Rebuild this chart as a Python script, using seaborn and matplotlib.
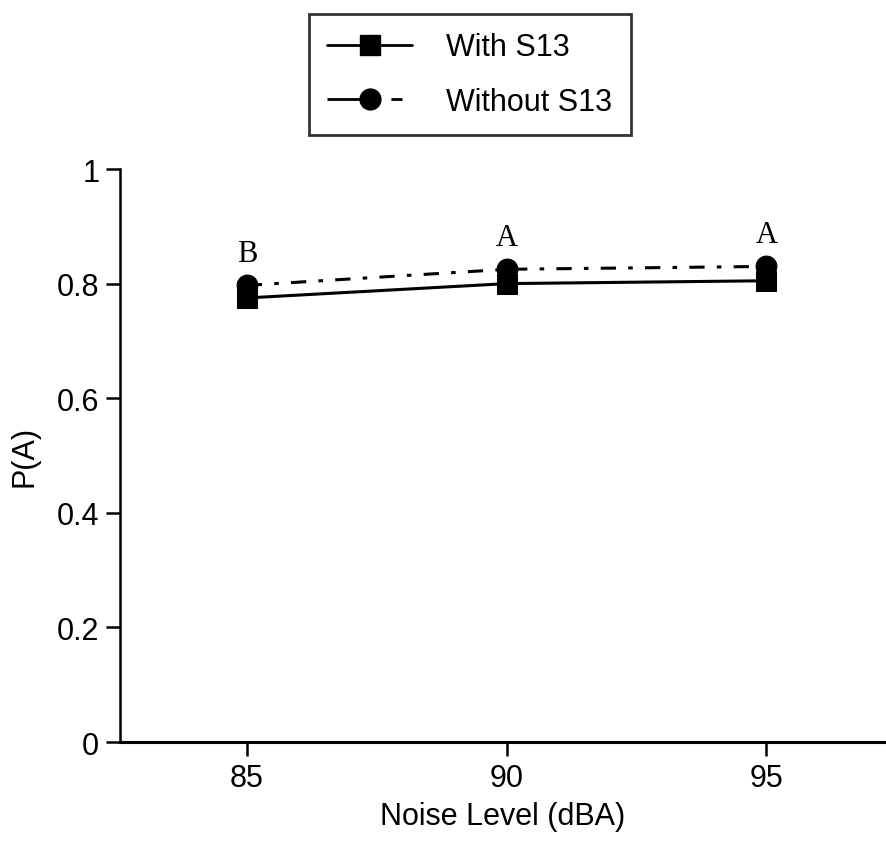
import matplotlib
matplotlib.use("Agg")
import matplotlib.pyplot as plt
from matplotlib.lines import Line2D
import pandas as pd
import seaborn as sns

noise = [85, 90, 95]
with_s13 = [0.775, 0.800, 0.805]
without_s13 = [0.797, 0.825, 0.830]
letters = ["B", "A", "A"]
y_ticks = [0, 0.2, 0.4, 0.6, 0.8, 1]
y_ticklabels = ["0", "0.2", "0.4", "0.6", "0.8", "1"]

df = pd.DataFrame({
    "noise": noise * 2,
    "pa": with_s13 + without_s13,
    "group": ["With S13"] * 3 + ["Without S13"] * 3,
})

sns.set_style("ticks")
plt.rcParams["font.family"] = ["Liberation Sans", "DejaVu Sans"]
plt.rcParams["text.color"] = "black"
plt.rcParams["axes.labelcolor"] = "black"
plt.rcParams["xtick.color"] = "black"
plt.rcParams["ytick.color"] = "black"
plt.rcParams["axes.edgecolor"] = "black"

fig = plt.figure(figsize=(8.86, 8.45), dpi=100)
ax = fig.add_axes([0.1354, 0.1207, 0.8646, 0.6781])

sns.lineplot(data=df, x="noise", y="pa", hue="group", style="group",
             palette={"With S13": "black", "Without S13": "black"},
             markers={"With S13": "s", "Without S13": "o"},
             dashes={"With S13": "", "Without S13": (5, 4, 1.5, 4)},
             markersize=15, markeredgecolor="black", linewidth=2.2,
             ax=ax, legend=False)

for x, y, t in zip(noise, without_s13, letters):
    ax.text(x, y + 0.03, t, ha="center", va="bottom", fontsize=22,
            family="Liberation Serif")

ax.set_xlim(82.56, 97.3)
ax.set_ylim(0, 1)
ax.set_xticks(noise)
ax.set_yticks(y_ticks)
ax.set_yticklabels(y_ticklabels)
ax.tick_params(labelsize=22, length=10, width=1.8, pad=5)
ax.set_xlabel("Noise Level (dBA)", fontsize=22, labelpad=6)
ax.set_ylabel("P(A)", fontsize=22, labelpad=12)
sns.despine(ax=ax)
ax.spines["left"].set_linewidth(1.8)
ax.spines["bottom"].set_linewidth(2.2)

handles = [
    Line2D([], [], color="black", marker="s", markersize=15, linewidth=2),
    Line2D([], [], color="black", marker="o", markersize=15, linewidth=2,
           dashes=(13, 10, 4, 30)),
]
fig.legend(handles, ["With S13", "Without S13"], loc="upper center",
           bbox_to_anchor=(0.530, 1.004), fontsize=22, frameon=True,
           fancybox=False, edgecolor="black", handlelength=2.8,
           borderpad=0.6, labelspacing=0.8, handletextpad=1.1,
           borderaxespad=0.6)
leg = fig.legends[0]
leg.get_frame().set_linewidth(2)

fig.savefig("out.png", dpi=100)
